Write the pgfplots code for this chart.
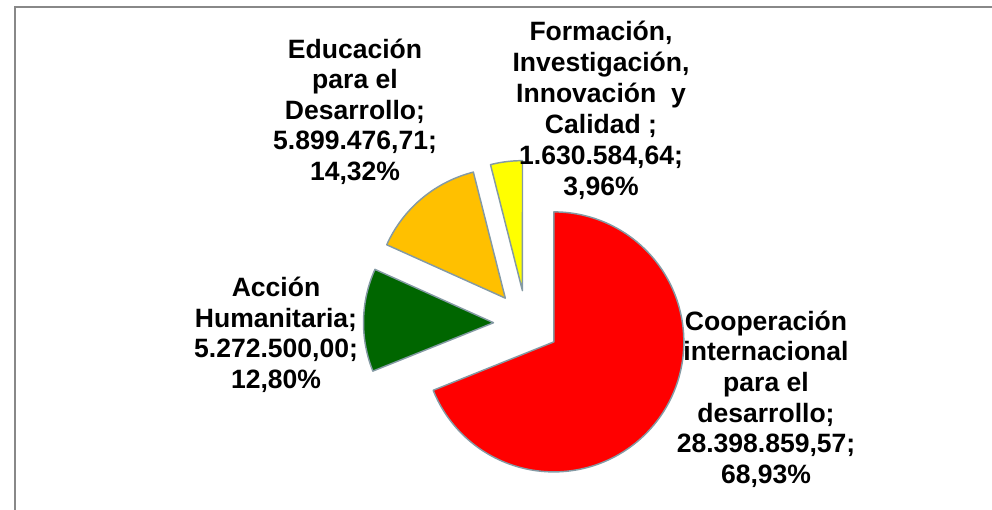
\documentclass[border=0pt]{standalone}
\usepackage{pgfplots}
\pgfplotsset{compat=1.18}
\usepackage{fontspec}
\setmainfont{Liberation Sans}
\definecolor{edge}{RGB}{132,154,164}
\definecolor{framec}{RGB}{136,136,136}
\definecolor{cRed}{RGB}{255,0,0}
\definecolor{cGreen}{RGB}{0,102,0}
\definecolor{cOrange}{RGB}{255,192,0}
\definecolor{cYellow}{RGB}{255,255,0}
\tikzset{lbl/.style={font=\fontsize{19.9}{23}\selectfont\bfseries, inner sep=0pt, outer sep=0pt, anchor=base, text=black}}
% data (percentages of the total)
\def\valA{68.93}% Cooperacion internacional para el desarrollo
\def\valB{12.80}% Accion Humanitaria
\def\valC{14.32}% Educacion para el Desarrollo
\def\valD{3.96}%  Formacion, Investigacion, Innovacion y Calidad
% geometry (pixel units)
\def\cx{526.5}\def\cy{323.4}\def\R{130}\def\ex{33}
\pgfmathsetmacro\aO{90}
\pgfmathsetmacro\aA{\aO-3.6*\valA}
\pgfmathsetmacro\aB{\aA-3.6*\valB}
\pgfmathsetmacro\aC{\aB-3.6*\valC}
\pgfmathsetmacro\aD{\aC-3.6*\valD}
\pgfmathsetmacro\mA{(\aO+\aA)/2}
\pgfmathsetmacro\mB{(\aA+\aB)/2}
\pgfmathsetmacro\mC{(\aB+\aC)/2}
\pgfmathsetmacro\mD{(\aC+\aD)/2}
\pgfmathsetmacro\xA{\cx+\ex*cos(\mA)}\pgfmathsetmacro\yA{\cy-\ex*sin(\mA)}
\pgfmathsetmacro\xB{\cx+\ex*cos(\mB)}\pgfmathsetmacro\yB{\cy-\ex*sin(\mB)}
\pgfmathsetmacro\xC{\cx+\ex*cos(\mC)}\pgfmathsetmacro\yC{\cy-\ex*sin(\mC)}
\pgfmathsetmacro\xD{\cx+\ex*cos(\mD)}\pgfmathsetmacro\yD{\cy-\ex*sin(\mD)}
\begin{document}
\begin{tikzpicture}
\begin{axis}[
  scale only axis, width=744pt, height=382.5pt,
  xmin=0, xmax=992, ymin=0, ymax=510, y dir=reverse,
  hide axis, clip=false,
]
\draw[framec, line width=1.5pt] (axis cs:15,1000) -- (axis cs:15,7.3) -- (axis cs:1200,7.3);
\addplot[fill=cRed, draw=edge, line width=1.1pt, line join=round, no markers, domain=\aA:\aO, samples=200, variable=\t]
  ({\xA+\R*cos(\t)},{\yA-\R*sin(\t)}) -- (axis cs:\xA,\yA) -- cycle;
\addplot[fill=cGreen, draw=edge, line width=1.1pt, line join=round, no markers, domain=\aB:\aA, samples=60, variable=\t]
  ({\xB+\R*cos(\t)},{\yB-\R*sin(\t)}) -- (axis cs:\xB,\yB) -- cycle;
\addplot[fill=cOrange, draw=edge, line width=1.1pt, line join=round, no markers, domain=\aC:\aB, samples=60, variable=\t]
  ({\xC+\R*cos(\t)},{\yC-\R*sin(\t)}) -- (axis cs:\xC,\yC) -- cycle;
\addplot[fill=cYellow, draw=edge, line width=1.1pt, line join=round, no markers, domain=\aD:\aC, samples=30, variable=\t]
  ({\xD+\R*cos(\t)},{\yD-\R*sin(\t)}) -- (axis cs:\xD,\yD) -- cycle;
% labels
\node[lbl] at (axis cs:766,330.0) {Cooperación};
\node[lbl] at (axis cs:766,360.7) {internacional};
\node[lbl] at (axis cs:766,391.4) {para el};
\node[lbl] at (axis cs:766,422.1) {desarrollo;};
\node[lbl] at (axis cs:766,452.8) {28.398.859,57;};
\node[lbl] at (axis cs:766,483.5) {68,93\%};
\node[lbl] at (axis cs:276,296.7) {Acción};
\node[lbl] at (axis cs:276,327.2) {Humanitaria;};
\node[lbl] at (axis cs:276,357.7) {5.272.500,00;};
\node[lbl] at (axis cs:276,388.2) {12,80\%};
\node[lbl] at (axis cs:355,58.3) {Educación};
\node[lbl] at (axis cs:355,88.8) {para el};
\node[lbl] at (axis cs:355,119.3) {Desarrollo;};
\node[lbl] at (axis cs:355,149.8) {5.899.476,71;};
\node[lbl] at (axis cs:355,180.3) {14,32\%};
\node[lbl] at (axis cs:601,40.0) {Formación,};
\node[lbl] at (axis cs:601,71.0) {Investigación,};
\node[lbl] at (axis cs:601,102.0) {Innovación\ \ y};
\node[lbl] at (axis cs:601,133.0) {Calidad ;};
\node[lbl] at (axis cs:601,164.0) {1.630.584,64;};
\node[lbl] at (axis cs:601,195.0) {3,96\%};
\end{axis}
\pgfresetboundingbox
\path[use as bounding box] (0,0) rectangle (744pt,382.5pt);
\end{tikzpicture}
\end{document}
